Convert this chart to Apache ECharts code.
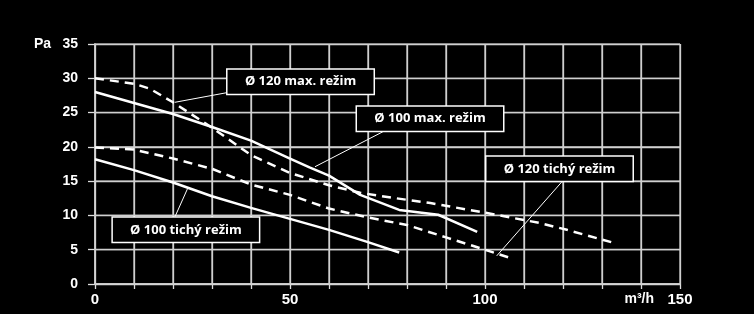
<!DOCTYPE html>
<html><head><meta charset="utf-8">
<script src="https://cdn.jsdelivr.net/npm/echarts@6/dist/echarts.min.js"></script>
<style>html,body{margin:0;padding:0;background:#000;}#c{width:754px;height:314px;}</style>
</head><body><div id="c"></div>
<script>
// Data (x: m³/h, y: Pa)
const names = ['Ø 120 max. režim', 'Ø 100 max. režim', 'Ø 120 tichý režim', 'Ø 100 tichý režim'];
const d120max = [[0,30],[10,29.2],[14,28.5],[20,26.5],[30,22.8],[40,18.8],[50,16.2],[60,14.4],[68,13.3],[76,12.6],[86,11.8],[100,10.4],[114,8.9],[121,7.9],[133,6]];
const d100max = [[0,28],[10,26.4],[20,24.8],[30,22.9],[40,20.9],[50,18.3],[55,17],[60,15.8],[68,13],[78,10.8],[88,10.1],[98,7.6]];
const d120tichy = [[0,19.9],[10,19.6],[20,18.3],[30,16.8],[40,14.5],[50,13],[60,11],[70,9.7],[80,8.6],[90,6.8],[100,5],[107,3.7]];
const d100tichy = [[0,18.2],[10,16.6],[20,14.8],[30,12.8],[40,11.1],[50,9.5],[60,7.9],[70,6.1],[78,4.6]];
const dashed = [true, false, true, false];
// annotation: anchor on curve, leader end at box, box centre (data coords)
const anchors = [[20.5,26.5],[56.4,17.1],[103,4.1],[23.8,14]];
const leaderEnds = [[33.8,27.9],[73.8,22.2],[119.7,14.9],[20.5,9.8]];
const boxCentres = [[52.7,29.5],[85.9,24.1],[119.1,16.8],[23.3,7.9]];
const xTickLabels = [0, 50, 100, 150];
const xGridValues = [0, 10, 20, 30, 40, 50, 60, 70, 80, 90, 100, 110, 120, 130, 140, 150];
const yGridValues = [0, 5, 10, 15, 20, 25, 30, 35];
const xUnit = 'm³/h';
const yUnit = 'Pa';

const X_MIN = 0, X_MAX = 150, Y_MIN = 0, Y_MAX = 35;
const GRID = { left: 95, right: 74, top: 44, bottom: 30 };
const W = 754, H = 314;
const plotW = W - GRID.left - GRID.right, plotH = H - GRID.top - GRID.bottom;
// outward tick lengths (px) converted to data units
const xTickLen = 5 * (Y_MAX - Y_MIN) / plotH;
const yTickLen = 7 * (X_MAX - X_MIN) / plotW;

const allData = [d120max, d100max, d120tichy, d100tichy];
const chart = echarts.init(document.getElementById('c'));

const gridStyle = { color: '#d0d0d0', width: 1.3, type: 'solid' };
const gridLineSeries = [];
xGridValues.forEach(v => gridLineSeries.push({
  type: 'line', data: [[v, Y_MIN - xTickLen], [v, Y_MAX]], symbol: 'none', silent: true, clip: false,
  lineStyle: gridStyle, emphasis: { disabled: true }, tooltip: { show: false }
}));
yGridValues.forEach(v => gridLineSeries.push({
  type: 'line', data: [[X_MIN - yTickLen, v], [X_MAX, v]], symbol: 'none', silent: true, clip: false,
  lineStyle: gridStyle, emphasis: { disabled: true }, tooltip: { show: false }
}));

const curveSeries = allData.map((d, i) => ({
  name: names[i], type: 'line', data: d, symbol: 'none', smooth: false,
  lineStyle: { color: '#fff', width: 2.5, type: dashed[i] ? [9, 6] : 'solid' },
  markLine: {
    silent: true, symbol: 'none',
    lineStyle: { color: '#fff', width: 1, type: 'solid' },
    label: { show: false },
    data: [[{ coord: anchors[i] }, { coord: leaderEnds[i] }]]
  },
  markPoint: {
    silent: true, symbol: 'rect', symbolSize: 0,
    data: [{ coord: boxCentres[i] }],
    label: {
      show: true, position: 'inside', formatter: names[i],
      color: '#fff', fontFamily: 'Open Sans', fontWeight: 'bold', fontSize: 13,
      backgroundColor: '#000', borderColor: '#fff', borderWidth: 1.5,
      width: 146, height: 24, lineHeight: 24, align: 'center', verticalAlign: 'middle'
    }
  }
}));

const labelFont = { color: '#fff', fontFamily: 'Liberation Sans', fontWeight: 'bold', fontSize: 14 };

chart.setOption({
  backgroundColor: '#000',
  grid: GRID,
  xAxis: {
    type: 'value', min: X_MIN, max: X_MAX, interval: 10,
    name: xUnit, nameLocation: 'end', nameGap: 0,
    nameTextStyle: Object.assign({}, labelFont, { align: 'right', verticalAlign: 'top', padding: [8, 26, 0, 0] }),
    axisLine: { show: true, lineStyle: { color: '#ddd', width: 1.5 } },
    axisTick: { show: true, length: 5, lineStyle: { color: '#ddd', width: 1.3 } },
    splitLine: { show: true, lineStyle: { color: '#d0d0d0', width: 1.3 } },
    axisLabel: Object.assign({ margin: 8, formatter: v => xTickLabels.includes(v) ? String(v) : '' }, labelFont, { fontSize: 15 })
  },
  yAxis: {
    type: 'value', min: Y_MIN, max: Y_MAX, interval: 5,
    name: yUnit, nameLocation: 'end', nameGap: 0,
    nameTextStyle: Object.assign({}, labelFont, { align: 'right', verticalAlign: 'middle', padding: [0, 44, 0, 0] }),
    axisLine: { show: true, lineStyle: { color: '#ddd', width: 1.5 } },
    axisTick: { show: true, length: 7, lineStyle: { color: '#ddd', width: 1.3 } },
    splitLine: { show: true, lineStyle: { color: '#d0d0d0', width: 1.3 } },
    axisLabel: Object.assign({ margin: 17 }, labelFont)
  },
  series: gridLineSeries.concat(curveSeries)
});
</script></body></html>
